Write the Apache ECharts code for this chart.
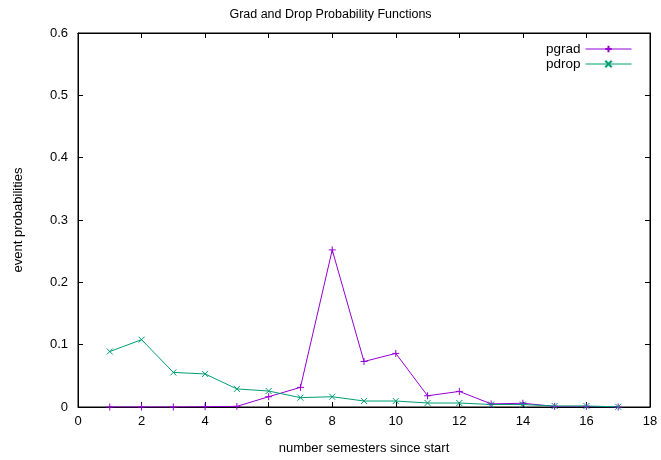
<!DOCTYPE html>
<html><head><meta charset="utf-8">
<script src="https://cdn.jsdelivr.net/npm/echarts@6/dist/echarts.min.js"></script>
<style>html,body{margin:0;padding:0;background:#fff}#c{width:661px;height:460px}</style>
</head><body><div id="c"></div>
<script>
const semesters = [1,2,3,4,5,6,7,8,9,10,11,12,13,14,15,16,17];
const pgrad = [0,0,0,0.0005,0.001,0.0165,0.0315,0.252,0.073,0.086,0.018,0.025,0.005,0.006,0.001,0.001,0];
const pdrop = [0.089,0.108,0.0555,0.053,0.029,0.0256,0.015,0.0165,0.0096,0.0096,0.0064,0.0064,0.004,0.004,0.0016,0.0016,0.0003];
const title = 'Grad and Drop Probability Functions';
const xName = 'number semesters since start';
const yName = 'event probabilities';
const FONT = 'Liberation Sans, Arial, sans-serif';
const plus = 'path://M0,5L10,5M5,0L5,10';
const cross = 'path://M0,0L10,10M10,0L0,10';
const chart = echarts.init(document.getElementById('c'));
const txt = {color:'#000', fontFamily:FONT, fontSize:13};
const axLine = {show:true, onZero:false, lineStyle:{color:'#000', width:1}};
const tick = {show:true, inside:true, length:5, lineStyle:{color:'#000'}};
function pairs(v){ return semesters.map((s,i)=>[s,v[i]]); }
chart.setOption({
  animation:false,
  backgroundColor:'#fff',
  title:{text:title, left:'center', top:3, textStyle:{fontFamily:FONT, fontSize:12.5, fontWeight:'normal', color:'#000'}},
  grid:{left:78, right:11, top:33, bottom:51, show:true, borderColor:'#000', borderWidth:1, backgroundColor:'transparent'},
  legend:{orient:'vertical', right:24, top:37, align:'right', itemWidth:46, itemHeight:8, itemGap:1,
    lineStyle:{width:1}, textStyle:{fontFamily:FONT, fontSize:13.5, color:'#000', padding:[0,0,0,0]}, data:['pgrad','pdrop']},
  xAxis:[
    {type:'value', min:0, max:18, interval:2, position:'bottom', axisLine:axLine, axisTick:tick, splitLine:{show:false},
     axisLabel:Object.assign({margin:8}, txt), name:xName, nameLocation:'middle', nameGap:35, nameTextStyle:txt},
    {type:'value', min:0, max:18, interval:2, position:'top', axisLine:axLine, axisTick:tick, splitLine:{show:false}, axisLabel:{show:false}}
  ],
  yAxis:[
    {type:'value', min:0, max:0.6, interval:0.1, position:'left', axisLine:axLine, axisTick:tick, splitLine:{show:false},
     axisLabel:Object.assign({margin:10, formatter:v=>String(+v.toFixed(1))}, txt), name:yName, nameLocation:'middle', nameGap:53, nameRotate:90, nameTextStyle:txt},
    {type:'value', min:0, max:0.6, interval:0.1, position:'right', axisLine:axLine, axisTick:tick, splitLine:{show:false}, axisLabel:{show:false}}
  ],
  series:[
    {name:'pgrad', type:'line', data:pairs(pgrad), symbol:plus, symbolSize:7, showAllSymbol:true,
     lineStyle:{color:'#9400d3', width:1}, itemStyle:{color:'transparent', borderColor:'#9400d3', borderWidth:1}},
    {name:'pdrop', type:'line', data:pairs(pdrop), symbol:cross, symbolSize:6, showAllSymbol:true,
     lineStyle:{color:'#009e73', width:1}, itemStyle:{color:'transparent', borderColor:'#009e73', borderWidth:1}}
  ]
});
</script></body></html>
